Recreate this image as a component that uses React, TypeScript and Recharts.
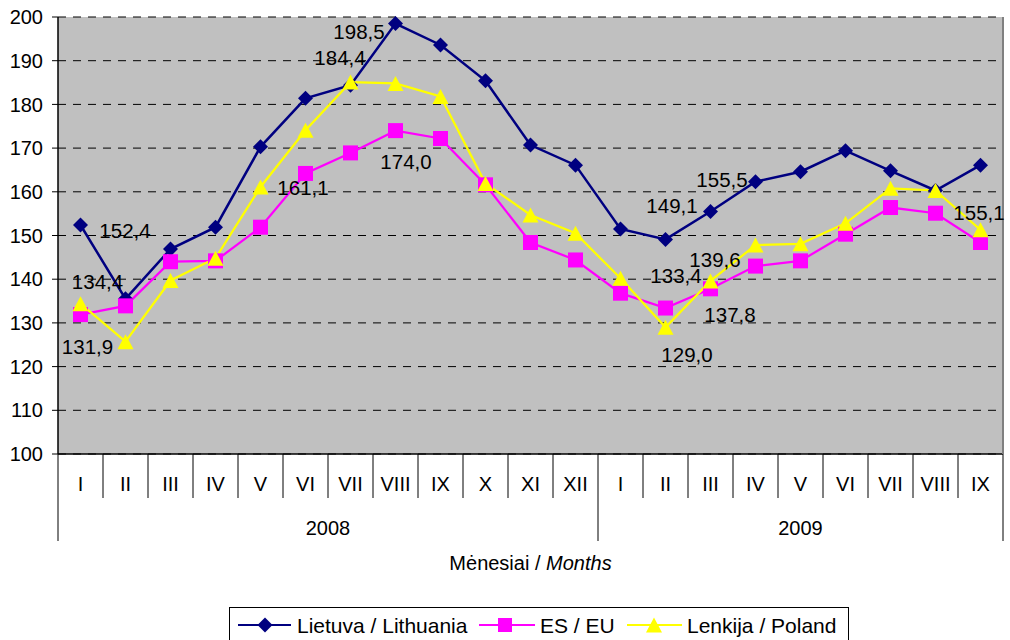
import React from 'react';
import { LineChart, Line, XAxis, YAxis, CartesianGrid, Legend, LabelList } from 'recharts';

// ---- data ----
const months = ['I', 'II', 'III', 'IV', 'V', 'VI', 'VII', 'VIII', 'IX', 'X', 'XI', 'XII', 'I', 'II', 'III', 'IV', 'V', 'VI', 'VII', 'VIII', 'IX'];
const yearLabels = ['2008', '2009'];
const yearMonthCounts = [12, 9];
const lithuania = [152.4, 135.5, 146.9, 151.9, 170.3, 181.4, 184.4, 198.5, 193.6, 185.4, 170.7, 166.1, 151.5, 149.1, 155.5, 162.3, 164.6, 169.4, 164.8, 160.3, 166.1];
const eu = [131.9, 133.9, 144.0, 144.2, 151.9, 164.2, 168.9, 174.0, 172.2, 161.6, 148.4, 144.4, 136.8, 133.4, 137.8, 143.0, 144.2, 150.3, 156.4, 155.1, 148.4];
const poland = [134.4, 125.7, 139.7, 144.8, 161.1, 174.1, 185.1, 184.8, 181.8, 161.9, 154.7, 150.5, 140.2, 129.0, 139.6, 147.8, 148.1, 152.8, 160.8, 160.3, 151.3];
const yTicks = [100, 110, 120, 130, 140, 150, 160, 170, 180, 190, 200];
const seriesNames = ['Lietuva / Lithuania', 'ES / EU', 'Lenkija / Poland'];

// ---- layout / style ----
const W = 1010;
const H = 640;
const MARGIN = { top: 17, right: 0, left: 0, bottom: 0 };
const Y_W = 58;
const Y_R_W = 7;
const X_H = 186;
const PLOT_W = W - Y_W - Y_R_W;
const BW = PLOT_W / months.length;
const FONT = '"Liberation Sans", Arial, sans-serif';
const C_LT = '#000080';
const C_EU = '#FF00FF';
const C_PL = '#FFFF00';
const C_BORDER = '#808080';

const yearStarts: number[] = [];
{
  let s = 0;
  yearMonthCounts.forEach((c) => {
    yearStarts.push(s);
    s += c;
  });
}
const yearOf = (i: number) => {
  let idx = 0;
  yearStarts.forEach((s, k) => {
    if (i >= s) idx = k;
  });
  return yearLabels[idx];
};

const data = months.map((m, i) => ({
  key: `${yearOf(i)}-${m}`,
  month: m,
  lt: lithuania[i],
  eu: eu[i],
  pl: poland[i],
}));

// label offsets (dx, dy) from point centre to label centre
const labelOffsets: Record<string, Record<number, [number, number]>> = {
  lt: { 0: [44.5, 6], 6: [-10.5, -27.5], 7: [-36.5, 8.5], 13: [6.5, -33], 14: [11.5, -31.5] },
  eu: { 0: [7, 32.5], 7: [10.5, 31.5], 13: [10.5, -32], 14: [19.5, 26], 19: [43.5, 0] },
  pl: { 0: [17, -21.7], 4: [42.5, 1], 13: [21.5, 28], 14: [4.5, -21] },
};

const fmt = (v: number) => v.toFixed(1).replace('.', ',');

const Diamond = ({ cx, cy, fill, r = 7.5 }: any) => (
  <polygon points={`${cx},${cy - r} ${cx + r},${cy} ${cx},${cy + r} ${cx - r},${cy}`} fill={fill} />
);
const Square = ({ cx, cy, fill, s = 15 }: any) => (
  <rect x={cx - s / 2} y={cy - s / 2} width={s} height={s} fill={fill} />
);
const Triangle = ({ cx, cy, fill, w = 16, h = 15 }: any) => (
  <polygon points={`${cx},${cy - h / 2} ${cx + w / 2},${cy + h / 2} ${cx - w / 2},${cy + h / 2}`} fill={fill} />
);

const makeLabel = (series: string) => (props: any) => {
  const idx = props.index;
  const off = labelOffsets[series][idx];
  if (!off) return null;
  const px = props.x ?? props.viewBox?.x;
  const py = props.y ?? props.viewBox?.y;
  return (
    <text key={`${series}-l-${idx}`} x={px + off[0]} y={py + off[1] + 7} textAnchor="middle" fontSize={20.5} fontFamily={FONT} fill="#000">
      {fmt(Number(props.value))}
    </text>
  );
};

const MonthTick = (props: any) => {
  const { x, y, payload } = props;
  const i: number = props.index ?? payload.index;
  const left = x - BW / 2;
  const right = x + BW / 2;
  const yk = yearStarts.indexOf(i);
  const isYearStart = yk >= 0;
  const isLast = i === months.length - 1;
  return (
    <g>
      <line x1={left} x2={left} y1={y} y2={y + (isYearStart ? 87 : 44)} stroke="#000" strokeWidth={1} />
      {isLast && <line x1={right} x2={right} y1={y} y2={y + 87} stroke="#000" strokeWidth={1} />}
      <text x={x} y={y + 37} textAnchor="middle" fontSize={20} fontFamily={FONT} fill="#000">
        {months[i]}
      </text>
      {isYearStart && (
        <text x={left + (yearMonthCounts[yk] * BW) / 2} y={y + 80.5} textAnchor="middle" fontSize={20} fontFamily={FONT} fill="#000">
          {yearLabels[yk]}
        </text>
      )}
    </g>
  );
};

const AxisTitle = (props: any) => {
  const vb = props.viewBox || {};
  const cx = vb.x + vb.width / 2;
  return (
    <text x={cx} y={570} textAnchor="middle" fontSize={20} fontFamily={FONT} fill="#000">
      <tspan>Mėnesiai / </tspan>
      <tspan fontStyle="italic">Months</tspan>
    </text>
  );
};

const LegendBox = () => (
  <div
    style={{
      width: 620,
      height: 44,
      border: '1px solid #000',
      background: '#fff',
      boxSizing: 'border-box',
      position: 'relative',
    }}
  >
    <svg width={620} height={44} style={{ position: 'absolute', left: -1, top: -1 }}>
      <line x1={9} x2={62} y1={18} y2={18} stroke={C_LT} strokeWidth={2} />
      <Diamond cx={36} cy={18} fill={C_LT} r={7.5} />
      <text x={68} y={26} fontSize={21} fontFamily={FONT} fill="#000">{seriesNames[0]}</text>
      <line x1={250} x2={306} y1={18} y2={18} stroke={C_EU} strokeWidth={2} />
      <Square cx={276} cy={18} fill={C_EU} s={14} />
      <text x={311} y={26} fontSize={21} fontFamily={FONT} fill="#000">{seriesNames[1]}</text>
      <line x1={398} x2={453} y1={18} y2={18} stroke={C_PL} strokeWidth={2} />
      <Triangle cx={425} cy={18} fill={C_PL} w={16} h={15} />
      <text x={458} y={26} fontSize={21} fontFamily={FONT} fill="#000">{seriesNames[2]}</text>
    </svg>
  </div>
);

export default function App() {
  return (
    <div style={{ position: 'absolute', left: 0, top: 0, width: W, height: H, background: '#fff', fontFamily: FONT }}>
      <LineChart width={W} height={H} data={data} margin={MARGIN}>
        <CartesianGrid vertical={false} fill="#C0C0C0" stroke="#000" strokeDasharray="8 7" />
        <XAxis
          dataKey="key"
          interval={0}
          height={X_H}
          padding={{ left: BW / 2, right: BW / 2 }}
          tickSize={0}
          tickMargin={0}
          tickLine={false}
          axisLine={{ stroke: '#000', strokeWidth: 1.5 }}
          tick={<MonthTick />}
          label={<AxisTitle />}
        />
        <XAxis
          xAxisId="top"
          orientation="top"
          dataKey="key"
          height={0}
          tick={false}
          tickLine={false}
          axisLine={{ stroke: C_BORDER, strokeWidth: 2 }}
        />
        <YAxis
          width={Y_W}
          domain={[100, 200]}
          ticks={yTicks}
          interval={0}
          tickSize={6}
          tickMargin={9}
          axisLine={{ stroke: '#000', strokeWidth: 1.5 }}
          tickLine={{ stroke: '#000' }}
          tick={{ fill: '#000', fontSize: 20, fontFamily: FONT }}
        />
        <YAxis
          yAxisId="right"
          orientation="right"
          width={Y_R_W}
          domain={[100, 200]}
          tick={false}
          tickLine={false}
          axisLine={{ stroke: C_BORDER, strokeWidth: 2 }}
        />
        <Line
          dataKey="lt"
          name={seriesNames[0]}
          stroke={C_LT}
          strokeWidth={2.5}
          isAnimationActive={false}
          dot={(p: any) => <Diamond key={`lt-${p.index}`} cx={p.cx} cy={p.cy} fill={C_LT} />}
        >
          <LabelList dataKey="lt" content={makeLabel('lt')} />
        </Line>
        <Line
          dataKey="eu"
          name={seriesNames[1]}
          stroke={C_EU}
          strokeWidth={2.25}
          isAnimationActive={false}
          dot={(p: any) => <Square key={`eu-${p.index}`} cx={p.cx} cy={p.cy} fill={C_EU} />}
        >
          <LabelList dataKey="eu" content={makeLabel('eu')} />
        </Line>
        <Line
          dataKey="pl"
          name={seriesNames[2]}
          stroke={C_PL}
          strokeWidth={2.25}
          isAnimationActive={false}
          dot={(p: any) => <Triangle key={`pl-${p.index}`} cx={p.cx} cy={p.cy} fill={C_PL} />}
        >
          <LabelList dataKey="pl" content={makeLabel('pl')} />
        </Line>
        <Legend
          layout="horizontal"
          verticalAlign="middle"
          align="center"
          wrapperStyle={{ top: 607, left: 229, width: 620, height: 44 }}
          content={<LegendBox />}
        />
      </LineChart>
    </div>
  );
}
